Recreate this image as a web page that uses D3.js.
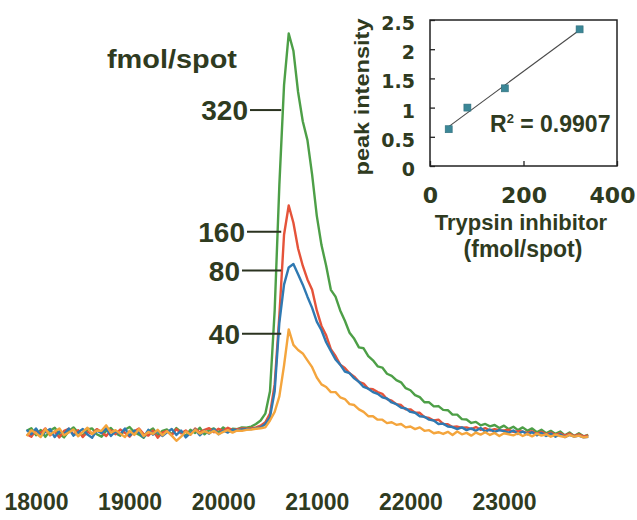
<!DOCTYPE html>
<html>
<head>
<meta charset="utf-8">
<script src="https://cdn.jsdelivr.net/npm/d3@7"></script>
<style>
  body { margin: 0; background: #fff; }
  svg { display: block; }
  text { font-family: "Liberation Sans", Arial, Helvetica, sans-serif; font-weight: bold; fill: #2f3b1f; }
</style>
</head>
<body>
<svg id="chart" width="637" height="520"></svg>
<script>
// ---- spectra: sampled every massStep Da from massStart (intensity in peak-intensity units)
const massStart = 17900;
const massStep = 50;

const green320 = [
  .030,.045,.005,.035,-.005,.030,.048,.012,-.008,.028,
  .050,.020,.000,.038,.044,.010,-.004,.030,.046,.016,
  .002,.036,.052,.022,.008,-.010,.026,.044,.004,.030,
  .038,.010,.046,.024,.000,.036,.018,.048,.010,.034,
  .044,.022,.050,.030,.042,.040,.050,.048,.055,.070,
  .090,.130,.260,.730,1.46,2.04,2.34,2.24,2.00,1.83,
  1.72,1.52,1.28,1.11,.990,.850,.810,.730,.670,.600,
  .565,.515,.510,.465,.440,.405,.398,.362,.350,.325,
  .312,.278,.266,.238,.226,.196,.196,.172,.174,.152,
  .150,.124,.124,.098,.096,.076,.082,.062,.070,.056,
  .064,.046,.060,.040,.054,.034,.050,.030,.044,.022,
  .036,.016,.030,.012,.026,.004,.020,.000,.016,-.002,
  .006
];
const red160 = [
  .010,-.004,.034,.016,.044,.004,.026,-.008,.030,.042,
  .008,.034,-.006,.024,.012,.040,.022,.000,.034,.010,
  .038,.018,-.004,.028,.044,.012,.002,.032,-.010,.020,
  .030,.004,.040,.016,.032,.008,.044,.020,.036,.046,
  .022,.042,.030,.048,.034,.040,.044,.042,.045,.050,
  .060,.080,.130,.300,.700,1.17,1.34,1.24,1.09,.990,
  .910,.850,.730,.640,.585,.505,.465,.415,.395,.365,
  .345,.315,.305,.275,.272,.255,.245,.215,.205,.185,
  .180,.155,.155,.135,.135,.110,.105,.090,.095,.070,
  .068,.052,.055,.048,.050,.040,.052,.036,.046,.032,
  .040,.034,.032,.036,.024,.028,.026,.018,.028,.012,
  .024,.010,.020,.006,.016,.002,.014,.000,.010,-.002,
  .004
];
const blue80 = [
  .036,.010,.044,.000,.024,.040,-.006,.028,.012,.044,
  .002,.022,.040,.008,-.010,.032,.016,.046,.000,.028,
  .010,.044,.002,.032,.020,-.006,.036,.008,.030,.000,
  .022,.040,.006,.032,-.008,.018,.038,.004,.030,.014,
  .040,.010,.032,.020,.036,.034,.038,.040,.040,.045,
  .050,.070,.110,.260,.660,.880,.980,1.00,.940,.880,
  .810,.745,.665,.615,.545,.495,.445,.415,.375,.365,
  .335,.315,.285,.275,.255,.245,.225,.218,.195,.185,
  .165,.160,.140,.135,.115,.112,.095,.090,.070,.072,
  .055,.052,.040,.050,.034,.044,.030,.046,.026,.038,
  .024,.034,.028,.020,.032,.012,.026,.010,.022,.004,
  .018,.000,.014,-.004,.010,-.006,.006,-.004,.002,-.008,
  -.004
];
const orange40 = [
  .000,.034,.016,-.006,.040,.008,.026,.044,.004,.020,
  .038,-.002,.024,.048,.012,.032,.030,.062,.020,.034,
  .014,-.006,.030,.006,.040,.000,.024,.012,.036,.004,
  .028,.002,-.028,-.004,.026,.008,.036,.014,.028,.016,
  .030,.010,.024,.034,.020,.032,.030,.036,.038,.042,
  .045,.050,.090,.140,.230,.410,.620,.530,.500,.480,
  .440,.400,.340,.300,.285,.255,.255,.225,.215,.185,
  .180,.155,.140,.115,.115,.095,.095,.075,.080,.065,
  .070,.050,.055,.040,.050,.030,.034,.016,.022,.012,
  .024,.006,.026,.010,.018,.002,.020,.008,.022,.006,
  .018,.000,.016,.010,.004,.016,.000,.012,-.002,.014,
  .002,.010,-.004,.008,.000,-.006,.006,-.004,.002,-.008,
  -.004
];

const seriesNames  = ["320", "160", "80", "40"];
const seriesValues = [green320, red160, blue80, orange40];
const seriesColors = ["#4d9f47", "#e5533a", "#2f79b2", "#f4a53d"];
// intensity level at which each amount label points to its trace
const labelLevels  = [1.895, 1.188, 0.962, 0.595];

const massTicks = [18000, 19000, 20000, 21000, 22000, 23000];

// ---- inset: peak intensity vs. amount spotted
const insetAmount = [40, 80, 160, 320];
const insetPeak   = [0.63, 1.00, 1.33, 2.34];
const insetYTicks = [0, 0.5, 1, 1.5, 2, 2.5];
const insetXTicks = [0, 200, 400];
const rSquaredText = "0.9907";

const svg = d3.select("#chart");

// ---------- main spectrum panel ----------
const x = d3.scaleLinear().domain([18000, 23000]).range([36, 504]);
const y = d3.scaleLinear().domain([0, 2.5]).range([436, 6]);

const line = d3.line()
  .x((d, i) => x(massStart + i * massStep))
  .y(d => y(d));

svg.append("g").selectAll("path")
  .data(seriesValues)
  .join("path")
  .attr("d", line)
  .attr("fill", "none")
  .attr("stroke", (d, i) => seriesColors[i])
  .attr("stroke-width", 2.4)
  .attr("stroke-linejoin", "round");

// mass axis labels only (no axis line)
const xAxis = svg.append("g")
  .attr("transform", `translate(0,${y(0)})`)
  .call(d3.axisBottom(x).tickValues(massTicks).tickFormat(d3.format("d")).tickSize(0).tickPadding(57.7));
xAxis.select(".domain").remove();
xAxis.selectAll("text")
  .style("font-family", "'Liberation Sans Narrow', 'Arial Narrow', 'Liberation Sans', sans-serif")
  .style("font-weight", "bold")
  .style("font-size", "23px")
  .attr("fill", "#2f3b1f");

// amount labels with leader lines
svg.append("text")
  .attr("x", 107).attr("y", 68)
  .attr("font-size", 26)
  .attr("textLength", 130)
  .attr("lengthAdjust", "spacingAndGlyphs")
  .text("fmol/spot");

const leaderStart = [250, 247, 242, 242];
const leaderEndMass = 20620;
const ann = svg.append("g");
seriesNames.forEach((name, i) => {
  const ly = y(labelLevels[i]);
  ann.append("line")
    .attr("x1", leaderStart[i]).attr("x2", x(leaderEndMass))
    .attr("y1", ly).attr("y2", ly)
    .attr("stroke", "#2b3320").attr("stroke-width", 2);
  ann.append("text")
    .attr("x", leaderStart[i] - 2).attr("y", ly)
    .attr("dy", "0.36em")
    .attr("text-anchor", "end")
    .attr("font-size", 28)
    .text(name);
});

// ---------- inset ----------
const ix = d3.scaleLinear().domain([0, 400]).range([430, 617]);
const iy = d3.scaleLinear().domain([0, 2.5]).range([166, 20]);

const inset = svg.append("g");

const yAx = inset.append("g")
  .attr("transform", `translate(${ix(0)},0)`)
  .call(d3.axisLeft(iy).tickValues(insetYTicks).tickFormat(d3.format("")).tickSize(-5).tickPadding(15));
yAx.select(".domain").remove();
yAx.selectAll("line").attr("stroke", "#222").attr("stroke-width", 1.3);
yAx.selectAll("text")
  .style("font-family", "'DejaVu Sans', sans-serif")
  .style("font-weight", "bold")
  .style("font-size", "19px")
  .attr("dy", "0.5em")
  .attr("fill", "#2f3b1f");

const xAx = inset.append("g")
  .attr("transform", `translate(0,${iy(0)})`)
  .call(d3.axisBottom(ix).tickValues(insetXTicks).tickFormat(d3.format("d")).tickSize(-5).tickPadding(21.5));
xAx.select(".domain").remove();
xAx.selectAll("line").attr("stroke", "#222").attr("stroke-width", 1.3);
xAx.selectAll("text")
  .style("font-family", "'DejaVu Sans', sans-serif")
  .style("font-weight", "bold")
  .style("font-size", "22px")
  .attr("fill", "#2f3b1f");
// keep the last label inside the frame
xAx.selectAll(".tick").filter(d => d === d3.max(insetXTicks)).select("text")
  .attr("text-anchor", "end").attr("x", 18);

inset.append("rect")
  .attr("x", ix(0)).attr("y", iy(2.5))
  .attr("width", ix(400) - ix(0)).attr("height", iy(0) - iy(2.5))
  .attr("fill", "none").attr("stroke", "#222").attr("stroke-width", 1.5);

// least-squares trend line through the points
const mx = d3.mean(insetAmount), my = d3.mean(insetPeak);
const sxy = d3.sum(insetAmount, (a, i) => (a - mx) * (insetPeak[i] - my));
const sxx = d3.sum(insetAmount, a => (a - mx) * (a - mx));
const slope = sxy / sxx, intercept = my - slope * mx;
const xa = d3.min(insetAmount), xb = d3.max(insetAmount);
inset.append("line")
  .attr("x1", ix(xa)).attr("y1", iy(intercept + slope * xa))
  .attr("x2", ix(xb)).attr("y2", iy(intercept + slope * xb))
  .attr("stroke", "#4a4a4a").attr("stroke-width", 1.1);

inset.selectAll("rect.pt")
  .data(insetAmount)
  .join("rect")
  .attr("class", "pt")
  .attr("x", d => ix(d) - 3.5)
  .attr("y", (d, i) => iy(insetPeak[i]) - 3.5)
  .attr("width", 7).attr("height", 7)
  .attr("fill", "#3b8797")
  .attr("stroke", "#2e6c7a").attr("stroke-width", 0.6);

const r2 = inset.append("text")
  .attr("x", 490).attr("y", 131.5)
  .attr("font-size", 23);
r2.append("tspan").text("R");
r2.append("tspan").attr("font-size", 13).attr("dy", -9).text("2");
r2.append("tspan").attr("dy", 9).text(" = " + rSquaredText);

inset.append("text")
  .attr("transform", "translate(369,97) rotate(-90)")
  .attr("text-anchor", "middle")
  .attr("font-size", 20)
  .attr("textLength", 157)
  .attr("lengthAdjust", "spacingAndGlyphs")
  .text("peak intensity");

inset.append("text")
  .attr("x", 521).attr("y", 230)
  .attr("text-anchor", "middle")
  .attr("font-size", 22)
  .text("Trypsin inhibitor");

inset.append("text")
  .attr("x", 523).attr("y", 257)
  .attr("text-anchor", "middle")
  .attr("font-size", 23)
  .text("(fmol/spot)");
</script>
</body>
</html>
